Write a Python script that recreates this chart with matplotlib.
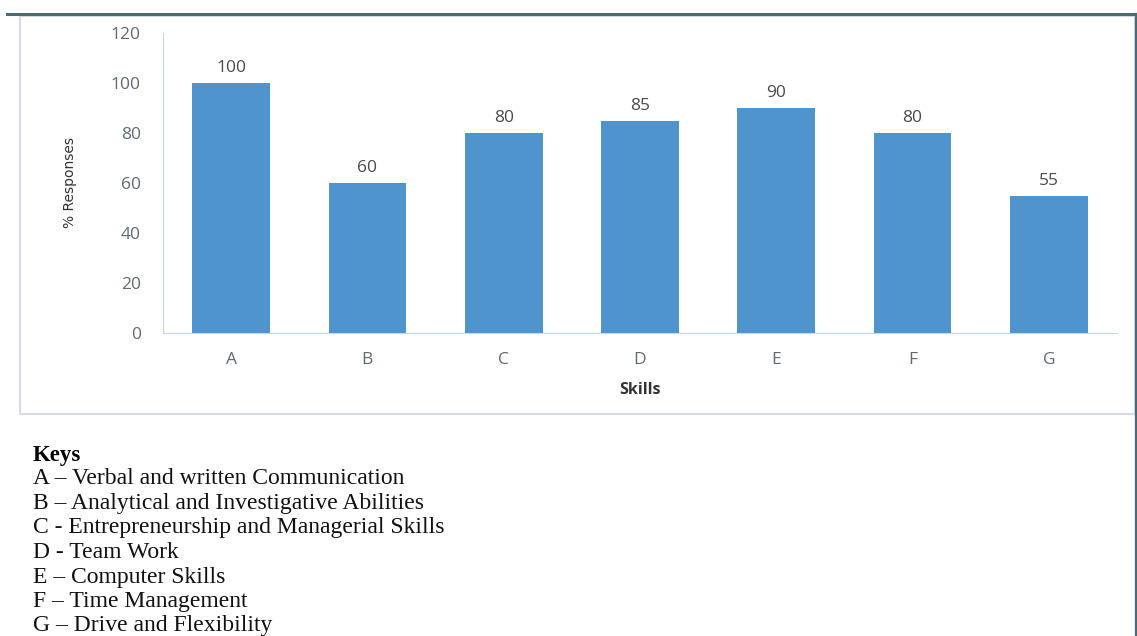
import matplotlib
matplotlib.use("Agg")
import matplotlib.pyplot as plt
from matplotlib.patches import Rectangle
from matplotlib.lines import Line2D

categories = ["A", "B", "C", "D", "E", "F", "G"]
values = [100, 60, 80, 85, 90, 80, 55]
yticks = [0, 20, 40, 60, 80, 100, 120]
keys_title = "Keys"
keys = [
    "A \u2013 Verbal and written Communication",
    "B \u2013 Analytical and Investigative Abilities",
    "C - Entrepreneurship and Managerial Skills",
    "D - Team Work",
    "E \u2013 Computer Skills",
    "F \u2013 Time Management",
    "G \u2013 Drive and Flexibility",
]

W, H = 1137, 636
fig = plt.figure(figsize=(W / 100, H / 100), dpi=100)
fig.patch.set_facecolor("white")

def fx(px):
    return px / W

def fy(py):
    return 1 - py / H

# chart frame
fig.patches.append(Rectangle((fx(20), fy(414)), fx(1135) - fx(20), fy(16) - fy(414),
                             transform=fig.transFigure, fill=False,
                             edgecolor="#d4dde6", linewidth=1.5))
# top dark line and right line
fig.lines.append(Line2D([fx(7), fx(1137)], [fy(14), fy(14)], transform=fig.transFigure,
                        color="#4a6b73", linewidth=2.2))
fig.lines.append(Line2D([fx(1136), fx(1136)], [fy(14), fy(636)], transform=fig.transFigure,
                        color="#4a6b73", linewidth=1.6))

ax = fig.add_axes([fx(163), fy(333), fx(1117) - fx(163), fy(33) - fy(333)])
x = list(range(len(categories)))
ax.bar(x, values, width=0.57, color="#4f94cd", zorder=2)
ax.set_xlim(-0.5, len(categories) - 0.5)
ax.set_ylim(0, 120)
ax.set_yticks(yticks)
ax.set_xticks(x)
ax.set_xticklabels(categories)
for s in ["top", "right"]:
    ax.spines[s].set_visible(False)
ax.spines["left"].set_color("#c5d6e6")
ax.spines["bottom"].set_color("#c5d6e6")
ax.tick_params(axis="both", length=0, colors="#595959", labelsize=12.5)
ax.tick_params(axis="y", pad=16)
ax.tick_params(axis="x", pad=14)
for lab in ax.get_xticklabels() + ax.get_yticklabels():
    lab.set_family("Open Sans")
    lab.set_color("#5f6a72")

for xi, v in zip(x, values):
    ax.annotate(str(v), (xi, v), xytext=(0, 5), textcoords="offset points",
                ha="center", va="bottom", fontsize=12.5, color="#4a4a4a", family="Open Sans")

ax.set_xlabel("Skills", fontsize=11.5, fontweight="bold", color="#333333",
              family="Open Sans", labelpad=10)
ax.set_ylabel("% Responses", fontsize=10, color="#333333", family="Liberation Sans Narrow")
ax.yaxis.set_label_coords((77 - 163) / 954, 0.5)

# keys
fig.text(fx(33), fy(455), keys_title, fontsize=16.5, fontweight="bold",
         family="Liberation Serif", va="center", ha="left", color="black")
for i, k in enumerate(keys):
    fig.text(fx(33), fy(479 + i * 24.5), k, fontsize=17, family="Liberation Serif",
             va="center", ha="left", color="#111111")

fig.savefig("out.png", dpi=100)
